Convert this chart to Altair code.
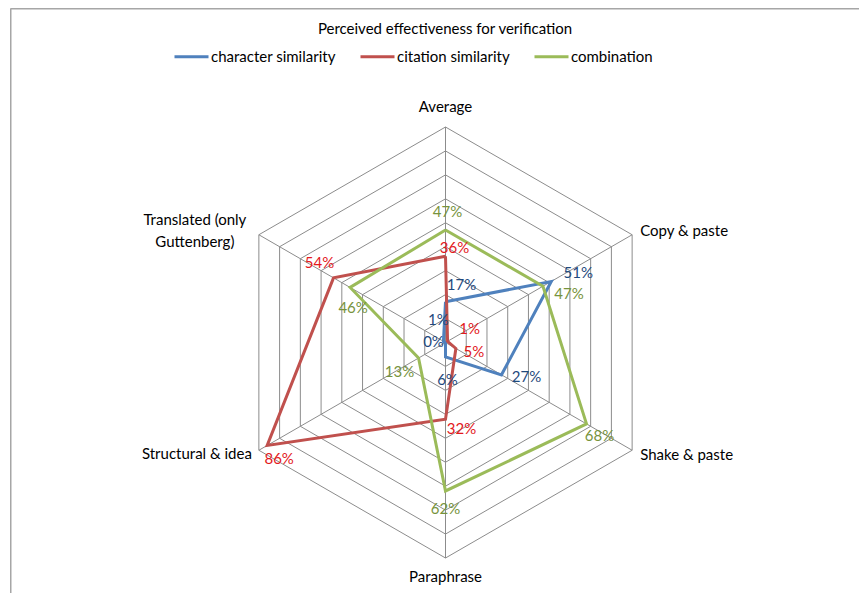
import math
import altair as alt
import pandas as pd

# ---------------- data ----------------
CATEGORIES = ["Average", "Copy & paste", "Shake & paste", "Paraphrase",
              "Structural & idea", "Translated (only Guttenberg)"]
SERIES = ["character similarity", "citation similarity", "combination"]
CHARACTER = [0.17, 0.51, 0.27, 0.06, 0.00, 0.01]
CITATION = [0.36, 0.01, 0.05, 0.32, 0.86, 0.54]
COMBINATION = [0.47, 0.47, 0.68, 0.62, 0.13, 0.46]
GRID_LEVELS = [0.1, 0.2, 0.3, 0.4, 0.5, 0.6, 0.7, 0.8, 0.9]
R_MAX = 0.9
TITLE = "Perceived effectiveness for verification"

# ---------------- styles ----------------
LINE_COLORS = ["#4F81BD", "#C0504D", "#9BBB59"]
LABEL_COLORS = ["#1F497D", "#E3191C", "#77933C"]
GRID_COLOR = "#8C8C8C"
FONT = "Lato"
FS = 15

# pixel nudges of data labels (dx, dy) per series, per category
LABEL_NUDGE = {
    "character similarity": [(16, -17), (27, -8), (25, 2), (2, 23), (-12, -1), (-5, -21)],
    "citation similarity": [(9, -8), (22, -12), (18, 4), (16, 10), (12, 14), (-14, -15)],
    "combination": [(2, -18), (26, 8), (13, 12), (0, 18), (-19, 14), (3, 21)],
}
# category label placement: (align, dx, dy)
CAT_STYLE = [("center", 0, -20), ("left", 8, -4), ("left", 8, 5),
             ("center", 0, 19), ("right", -7, 4), ("center", -64, -15)]

# ---------------- canvas geometry ----------------
W, H = 851, 585
CX, CY = 437.5, 334.5          # centre of the radar, in view pixels
R_PX = 215.5                   # pixels for R_MAX
K = R_PX / R_MAX
XDOM = [-CX / K, (W - CX) / K]
YDOM = [-(H - CY) / K, CY / K]
xs = alt.Scale(domain=XDOM, nice=False, zero=False)
ys = alt.Scale(domain=YDOM, nice=False, zero=False)

N = len(CATEGORIES)


def to_xy(ch):
    return ch.transform_calculate(
        ang=f"datum.idx * 2 * PI / {N}"
    ).transform_calculate(
        px="datum.r * sin(datum.ang)",
        py="datum.r * cos(datum.ang)",
    )


# series table (closed polygons)
rows = []
for s, vals in zip(SERIES, [CHARACTER, CITATION, COMBINATION]):
    for i in range(N + 1):
        rows.append({"series": s, "idx": i, "r": vals[i % N],
                     "lab": f"{round(vals[i % N] * 100)}%", "cat": CATEGORIES[i % N]})
series_df = pd.DataFrame(rows)

grid_rows = [{"level": lv, "idx": i, "r": lv} for lv in GRID_LEVELS for i in range(N + 1)]
grid_df = pd.DataFrame(grid_rows)

spoke_df = pd.DataFrame({"idx": list(range(N)), "r": [R_MAX] * N})
cat_df = pd.DataFrame({"idx": list(range(N)), "r": [R_MAX] * N, "cat": CATEGORIES})

X = lambda f: alt.X(f, type="quantitative", scale=xs, axis=None)
Y = lambda f: alt.Y(f, type="quantitative", scale=ys, axis=None)

grid = to_xy(alt.Chart(grid_df)).mark_line(
    color=GRID_COLOR, strokeWidth=1
).encode(x=X("px"), y=Y("py"), detail="level:N", order="idx:Q")

spokes = to_xy(alt.Chart(spoke_df)).mark_rule(
    color=GRID_COLOR, strokeWidth=1
).encode(x=X("px"), y=Y("py"), x2=alt.X2(datum=0), y2=alt.Y2(datum=0))

lines = to_xy(alt.Chart(series_df)).mark_line(
    strokeWidth=3, strokeJoin="miter"
).encode(
    x=X("px"), y=Y("py"), order="idx:Q",
    color=alt.Color(
        "series:N",
        scale=alt.Scale(domain=SERIES, range=LINE_COLORS),
        legend=alt.Legend(
            title=None, orient="none", direction="horizontal",
            legendX=165, legendY=30,
            symbolType="stroke", symbolSize=1156, symbolStrokeWidth=3,
            labelFont=FONT, labelFontSize=FS, labelColor="#000000",
            labelOffset=1, columnPadding=18, padding=0,
        ),
    ),
)

layers = [grid, spokes, lines]

# data labels
for s, col in zip(SERIES, LABEL_COLORS):
    for i in range(N):
        dx, dy = LABEL_NUDGE[s][i]
        layers.append(
            to_xy(alt.Chart(series_df)).transform_filter(
                (alt.datum.series == s) & (alt.datum.idx == i)
            ).mark_text(
                font=FONT, fontSize=FS, color=col, dx=dx, dy=dy,
                align="center", baseline="middle",
            ).encode(x=X("px"), y=Y("py"), text="lab:N")
        )

# category labels
for i in range(N):
    al, dx, dy = CAT_STYLE[i]
    txt = CATEGORIES[i]
    if txt.startswith("Translated"):
        txt = "Translated (only\nGuttenberg)"
    layers.append(
        to_xy(alt.Chart(cat_df)).transform_filter(alt.datum.idx == i).transform_calculate(
            t=f"{txt!r}"
        ).mark_text(
            font=FONT, fontSize=FS, color="#000000", dx=dx, dy=dy,
            align=al, baseline="middle", lineBreak="\n", lineHeight=22,
        ).encode(x=X("px"), y=Y("py"), text="t:N")
    )

# title and frame
title = alt.Chart(pd.DataFrame({"t": [TITLE]})).mark_text(
    font=FONT, fontSize=FS, color="#000000", align="center", baseline="middle"
).encode(x=alt.value(437), y=alt.value(21), text="t:N")

frame_top = alt.Chart(pd.DataFrame({"a": [0]})).mark_rule(
    color="#A6A6A6", strokeWidth=1.5
).encode(x=alt.value(2.5), x2=alt.value(W), y=alt.value(0.75))
frame_left = alt.Chart(pd.DataFrame({"a": [0]})).mark_rule(
    color="#A6A6A6", strokeWidth=1.5
).encode(x=alt.value(2.75), y=alt.value(0.5), y2=alt.value(H))

layers += [title, frame_top, frame_left]

chart = alt.layer(*layers).properties(
    width=W, height=H, padding=0, autosize=alt.AutoSizeParams(type="none"),
    background="#FFFFFF",
).configure_view(stroke=None)

chart.save("out.html", embed_options={"renderer": "svg", "actions": False})
